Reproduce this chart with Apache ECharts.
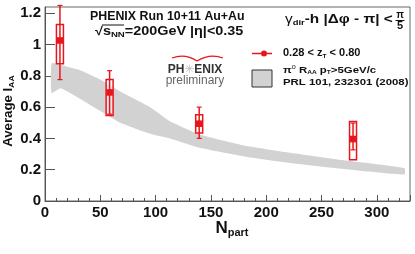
<!DOCTYPE html>
<html><head><meta charset="utf-8">
<script src="https://cdn.jsdelivr.net/npm/echarts@6/dist/echarts.min.js"></script>
<style>html,body{margin:0;padding:0;background:#fff}#c{width:415px;height:254px}</style>
</head><body><div id="c"></div>
<script>
// I_AA data points (gamma_dir - h, 0.28 < zT < 0.80)
const npart    = [13.5, 58.4, 139.4, 278.5];
const iaa      = [1.026, 0.694, 0.494, 0.396];
const statLow  = [0.776, 0.555, 0.400, 0.327];
const statHigh = [1.250, 0.833, 0.600, 0.498];
const sysLow   = [0.878, 0.547, 0.434, 0.263];
const sysHigh  = [1.128, 0.776, 0.551, 0.508];
// pi0 R_AA band (PRL 101, 232301)
const bandX    = [6, 14, 30, 50, 68, 95, 113, 140, 180, 220, 270, 325];
const bandTop  = [0.88, 0.87, 0.84, 0.776, 0.70, 0.60, 0.51, 0.425, 0.355, 0.31, 0.26, 0.21];
const bandLow  = [0.69, 0.72, 0.66, 0.575, 0.50, 0.43, 0.40, 0.34, 0.285, 0.245, 0.205, 0.17];
const yTicks = [0, 0.2, 0.4, 0.6, 0.8, 1.0, 1.2];
const xTicks = [0, 50, 100, 150, 200, 250, 300];

const RED = '#e8161b';
const FONT = '"Liberation Sans", Arial, sans-serif';
const chart = echarts.init(document.getElementById('c'), null, {renderer:'canvas'});

function sub(size, pad){ return {fontSize:size, fontWeight:'bold', fontFamily:FONT, fill:'#111', verticalAlign:'bottom', padding:[pad,0,0,0]}; }

const option = {
  animation: false,
  backgroundColor: '#fff',
  grid: {left:45, right:5, top:7, bottom:53, show:true, borderColor:'#666', borderWidth:1},
  xAxis: {
    type:'value', min:0, max:330, interval:50,
    axisLine:{show:true, lineStyle:{color:'#555', width:1}},
    axisTick:{show:true, inside:true, length:6, lineStyle:{color:'#555'}},
    minorTick:{show:true, splitNumber:5, length:3, lineStyle:{color:'#555'}},
    splitLine:{show:false},
    axisLabel:{showMaxLabel:false, fontSize:15, fontWeight:'bold', color:'#111', margin:4, fontFamily:FONT,
      formatter: v => xTicks.includes(Math.round(v)) ? String(Math.round(v)) : ''}
  },
  yAxis: {
    type:'value', min:0, max:1.24, interval:0.2,
    axisLine:{show:true, lineStyle:{color:'#555', width:1}},
    axisTick:{show:true, inside:true, length:10, lineStyle:{color:'#555'}},
    splitLine:{show:false},
    axisLabel:{showMaxLabel:false, fontSize:15, fontWeight:'bold', color:'#111', margin:4, fontFamily:FONT,
      formatter: v => { const r = Math.round(v*10)/10; return yTicks.includes(r) ? String(r) : ''; }}
  },
  series: [
    {
      type:'custom', name:'band', data:[0], z:1, silent:true,
      renderItem(params, api){
        const pts = [];
        for (let i=0;i<bandX.length;i++) pts.push(api.coord([bandX[i], bandTop[i]]));
        for (let i=bandX.length-1;i>=0;i--) pts.push(api.coord([bandX[i], bandLow[i]]));
        return {type:'polygon', shape:{points:pts, smooth:0.15}, style:{fill:'#d2d2d2', stroke:null}};
      }
    },
    {
      type:'custom', name:'IAA', z:3, silent:true,
      data: npart.map((x,i)=>[x, iaa[i], statLow[i], statHigh[i], sysLow[i], sysHigh[i]]),
      renderItem(params, api){
        const x = api.value(0);
        const c  = api.coord([x, api.value(1)]);
        const sl = api.coord([x, api.value(2)]), sh = api.coord([x, api.value(3)]);
        const bl = api.coord([x, api.value(4)]), bh = api.coord([x, api.value(5)]);
        const w = 7, cw = 2.5;
        return {type:'group', children:[
          {type:'rect', shape:{x:c[0]-w/2, y:bh[1], width:w, height:bl[1]-bh[1]}, style:{fill:'rgba(255,255,255,0.55)', stroke:RED, lineWidth:1.5}},
          {type:'line', shape:{x1:c[0], y1:sh[1], x2:c[0], y2:sl[1]}, style:{stroke:RED, lineWidth:1.5}},
          {type:'line', shape:{x1:c[0]-cw, y1:sh[1], x2:c[0]+cw, y2:sh[1]}, style:{stroke:RED, lineWidth:1.2}},
          {type:'line', shape:{x1:c[0]-cw, y1:sl[1], x2:c[0]+cw, y2:sl[1]}, style:{stroke:RED, lineWidth:1.2}},
          {type:'rect', shape:{x:c[0]-3.3, y:c[1]-3.3, width:6.6, height:6.6}, style:{fill:RED}}
        ]};
      }
    }
  ],
  graphic: [
    // axis titles
    {type:'text', x:9, y:111, rotation:Math.PI/2, scaleX:1.1, style:{
      text:'{m|Average I}{s|AA}', align:'center', verticalAlign:'middle',
      rich:{m:{fontSize:12, fontWeight:'bold', fontFamily:FONT, fill:'#111', lineHeight:14},
            s:Object.assign(sub(8,4),{lineHeight:14})}}},
    {type:'text', x:232, y:228, style:{
      text:'{m|N}{s|part}', align:'center', verticalAlign:'middle',
      rich:{m:{fontSize:17, fontWeight:'bold', fontFamily:FONT, fill:'#111', lineHeight:20},
            s:Object.assign(sub(11,8),{lineHeight:20})}}},
    // title lines
    {type:'text', x:90, y:17, scaleX:1.03, style:{text:'PHENIX Run 10+11 Au+Au', font:'bold 12px '+FONT, fill:'#111', align:'left', verticalAlign:'middle'}},
    {type:'text', x:95, y:32, scaleX:1.2, style:{
      text:'{m|√s}{s|NN}{m|=200GeV |η|<0.35}', align:'left', verticalAlign:'middle',
      rich:{m:{fontSize:12, fontWeight:'bold', fontFamily:FONT, fill:'#111', lineHeight:14},
            s:Object.assign(sub(8,5),{lineHeight:14})}}},
    {type:'line', shape:{x1:102, y1:25, x2:124, y2:25}, style:{stroke:'#111', lineWidth:1}},
    // PHENIX preliminary logo
    {type:'bezierCurve', shape:{x1:172, y1:58, cpx1:185, cpy1:53, x2:197, y2:61}, style:{stroke:RED, lineWidth:1.3, fill:null}},
    {type:'bezierCurve', shape:{x1:197, y1:61, cpx1:210, cpy1:53, x2:223, y2:58}, style:{stroke:RED, lineWidth:1.3, fill:null}},
    {type:'text', x:195, y:70, style:{
      text:'{a|PH}{b|✳}{a|ENIX}', align:'center', verticalAlign:'middle',
      rich:{a:{fontSize:12, fontWeight:'bold', fontFamily:FONT, fill:'#333'}, b:{fontSize:12, fontWeight:'bold', fontFamily:'"DejaVu Sans"', fill:'#bdbdbd'}}}},
    {type:'text', x:195, y:80.5, style:{text:'preliminary', font:'12px '+FONT, fill:'#666', align:'center', verticalAlign:'middle'}},
    // gamma_dir - h header
    {type:'text', x:285, y:19, scaleX:1.18, style:{
      text:'{g|γ}{s|dir}{m|-h |Δφ - π| <}', align:'left', verticalAlign:'middle',
      rich:{g:{fontSize:13, fontFamily:FONT, fill:'#111', lineHeight:15},
            m:{fontSize:13, fontWeight:'bold', fontFamily:FONT, fill:'#111', lineHeight:15},
            s:Object.assign(sub(8,6),{lineHeight:15})}}},
    {type:'text', x:400, y:15.5, style:{text:'π', font:'bold 10px '+FONT, fill:'#111', align:'center', verticalAlign:'middle'}},
    {type:'line', shape:{x1:395.5, y1:20.5, x2:404.5, y2:20.5}, style:{stroke:'#111', lineWidth:1}},
    {type:'text', x:400, y:26, style:{text:'5', font:'bold 11px '+FONT, fill:'#111', align:'center', verticalAlign:'middle'}},
    // legend
    {type:'line', shape:{x1:252, y1:53.5, x2:272, y2:53.5}, style:{stroke:RED, lineWidth:1.5}},
    {type:'circle', shape:{cx:264, cy:53.5, r:3}, style:{fill:RED}},
    {type:'text', x:283, y:53, scaleX:1.1, style:{
      text:'{m|0.28 < z}{s|T}{m| < 0.80}', align:'left', verticalAlign:'middle',
      rich:{m:{fontSize:10, fontWeight:'bold', fontFamily:FONT, fill:'#111', lineHeight:12},
            s:Object.assign(sub(6,3),{lineHeight:12})}}},
    {type:'rect', shape:{x:252, y:70, width:20, height:17}, style:{fill:'#d2d2d2', stroke:'#333', lineWidth:1}},
    {type:'text', x:283, y:70, scaleX:1.2, style:{
      text:'{m|π}{p|0}{m| R}{s|AA}{m| p}{s|T}{m|>5GeV/c}', align:'left', verticalAlign:'middle',
      rich:{m:{fontSize:9.5, fontWeight:'bold', fontFamily:FONT, fill:'#111', lineHeight:11},
            p:{fontSize:6, fontFamily:FONT, fill:'#111', lineHeight:11, verticalAlign:'top', padding:[0,0,4,0]},
            s:Object.assign(sub(5.5,2),{lineHeight:11})}}},
    {type:'text', x:283, y:82, scaleX:1.2, style:{text:'PRL 101, 232301 (2008)', font:'bold 9.5px '+FONT, fill:'#111', align:'left', verticalAlign:'middle'}}
  ]
};
chart.setOption(option);
</script>
</body></html>
